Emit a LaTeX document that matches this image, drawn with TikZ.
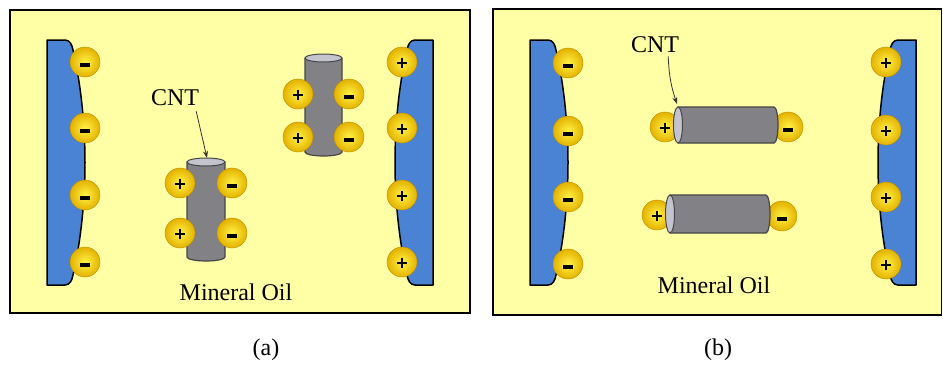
\documentclass[tikz,border=0pt]{standalone}
\usepackage{fontspec}
\setmainfont{Liberation Serif}
\usetikzlibrary{arrows.meta}

\definecolor{oil}{RGB}{255,255,165}
\definecolor{electrodeblue}{RGB}{74,130,212}
\definecolor{chgin}{RGB}{255,242,70}
\definecolor{chgout}{RGB}{228,178,0}
\definecolor{chgrim}{RGB}{190,140,0}
\definecolor{tubegray}{RGB}{130,130,134}
\definecolor{tubeedge}{RGB}{70,70,72}
\definecolor{capgray}{RGB}{196,196,206}

\tikzset{
  panel/.style={fill=oil, draw=black, line width=1.6pt},
  electrode/.style={fill=electrodeblue, draw=black, line width=1.5pt, line join=round},
  charge/.style={circle, minimum size=30pt, inner sep=0pt, draw=chgrim, line width=0.4pt,
    shading=radial, inner color=chgin, outer color=chgout},
  poscharge/.style={charge, path picture={
      \draw[draw=black, line width=2.4pt, shift={(path picture bounding box.center)}]
        (-5pt,-1pt) -- (5pt,-1pt) (0pt,-6pt) -- (0pt,4pt);}},
  negcharge/.style={charge, path picture={
      \draw[draw=black, line width=3.2pt, shift={(path picture bounding box.center)}]
        (-5pt,-3pt) -- (5pt,-3pt);}},
  tube/.style={fill=tubegray, draw=tubeedge, line width=1.2pt, line join=round},
  tubecap/.style={fill=capgray, draw=tubeedge, line width=1pt},
  label/.style={font=\fontsize{24}{28}\selectfont, inner sep=1pt},
  cntarrow/.style={draw=black!80, line width=0.8pt, -{Stealth[length=7pt,width=5pt]}}
}

\begin{document}
\begin{tikzpicture}[x=1pt, y=-1pt]
\useasboundingbox (0,0) rectangle (943,365);
\fill[white] (0,0) rectangle (943,365);

% ---------- panel frames ----------
\draw[panel] (10,10) rectangle (470,313);
\draw[panel] (493,9) rectangle (941.5,315);

% ---------- electrodes (same pair in both panels) ----------
\foreach \dx in {0,483}{
  \begin{scope}[xshift=\dx pt]
    % negative plate, concave face to the right
    \draw[electrode] (47,40) -- (65,40) to[out=0,in=100] (73,50)
      .. controls (89,120) and (89,205) .. (73,275)
      to[out=-100,in=0] (65,285) -- (47,285) -- cycle;
    % positive plate, concave face to the left
    \draw[electrode] (433,40) -- (415,40) to[out=180,in=80] (407,50)
      .. controls (391,120) and (391,205) .. (407,275)
      to[out=-80,in=180] (415,285) -- (433,285) -- cycle;
  \end{scope}
}

% ---------- electrode charges, panel (a) ----------
\node[negcharge] (an1) at (85,62) {};
\node[negcharge] (an2) at (85,128) {};
\node[negcharge] (an3) at (85,195) {};
\node[negcharge] (an4) at (85,262) {};
\node[poscharge] (ap1) at (402,62) {};
\node[poscharge] (ap2) at (402,128) {};
\node[poscharge] (ap3) at (402,195) {};
\node[poscharge] (ap4) at (402,262) {};

% ---------- electrode charges, panel (b) ----------
\node[negcharge] (bn1) at (568,63) {};
\node[negcharge] (bn2) at (568,131) {};
\node[negcharge] (bn3) at (568,197) {};
\node[negcharge] (bn4) at (568,264) {};
\node[poscharge] (bp1) at (886,62) {};
\node[poscharge] (bp2) at (886,130) {};
\node[poscharge] (bp3) at (886,197) {};
\node[poscharge] (bp4) at (886,264) {};

% ---------- panel (a): randomly oriented nanotubes ----------
% lower tube
\draw[tube] (187,162) -- (187,257) arc[start angle=180, end angle=0, x radius=19, y radius=4] -- (225,162) -- cycle;
\draw[tubecap] (206,162) ellipse[x radius=19, y radius=4];
\coordinate (capA) at (207,158);
% upper tube
\draw[tube] (305,58) -- (305,152) arc[start angle=180, end angle=0, x radius=18.5, y radius=4] -- (342,58) -- cycle;
\draw[tubecap] (323.5,58) ellipse[x radius=18.5, y radius=4];

\node[poscharge] (t1p1) at (180,183) {};
\node[negcharge] (t1n1) at (232,183) {};
\node[poscharge] (t1p2) at (180,233) {};
\node[negcharge] (t1n2) at (232,233) {};
\node[poscharge] (t2p1) at (298,94) {};
\node[negcharge] (t2n1) at (349,94) {};
\node[poscharge] (t2p2) at (298,137) {};
\node[negcharge] (t2n2) at (349,137) {};

% ---------- panel (b): aligned nanotubes ----------
\node[poscharge] (t3p) at (665,127) {};
\node[negcharge] (t3n) at (788,127) {};
\node[poscharge] (t4p) at (657,215) {};
\node[negcharge] (t4n) at (782,216) {};

\draw[tube] (678,107) -- (774,107) arc[start angle=-90, end angle=90, x radius=4, y radius=18] -- (678,143) -- cycle;
\draw[tubecap] (678,125) ellipse[x radius=4.5, y radius=18];
\coordinate (capB) at (677,104);
\draw[tube] (670,195) -- (766,195) arc[start angle=-90, end angle=90, x radius=4, y radius=19] -- (670,233) -- cycle;
\draw[tubecap] (670,214) ellipse[x radius=4.5, y radius=19];

% ---------- labels ----------
\node[label] (cntA) at (175,98) {CNT};
\node[label] (cntB) at (655,45) {CNT};
\draw[cntarrow] ([shift={(-4pt,-4pt)}]cntA.south east) -- (capA);
\draw[cntarrow] ([shift={(-12pt,-2pt)}]cntB.south east) to[bend right=8] (capB);

\node[label] (oilA) at (236,292) {Mineral Oil};
\node[label] (oilB) at (714,285) {Mineral Oil};

\node[label] (capa) at (266,350) {(a)};
\node[label] (capb) at (718,350) {(b)};
\end{tikzpicture}
\end{document}
